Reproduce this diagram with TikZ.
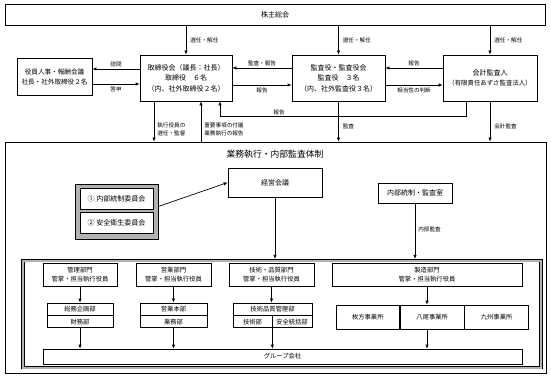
\documentclass[tikz,border=0pt]{standalone}
\usepackage{fontspec}
\setmainfont{Noto Sans CJK JP}
\usetikzlibrary{positioning,arrows.meta}

\begin{document}
\begin{tikzpicture}[x=1pt, y=-1pt, line width=0.7pt, >={Latex[length=4pt,width=3.5pt]},
    every node/.style={font=\fontsize{7}{10.5}\selectfont, inner sep=0pt},
    box/.style={draw, align=center, fill=white},
    lbl/.style={font=\fontsize{5.6}{8}\selectfont, align=left},
    dept/.style={draw, align=center, fill=white, font=\fontsize{6.3}{9}\selectfont}]
    \useasboundingbox (0,0) rectangle (551,377);

    % top level
    \node[box, minimum width=540, minimum height=21] (soukai) at (275,14.5) {株主総会};
    \node[box, minimum width=75, minimum height=37, font=\fontsize{6.6}{10}\selectfont] (jinji) at (54.5,76.5) {役員人事・報酬会議\\社長・社外取締役２名};
    \node[box, minimum width=92, minimum height=46] (torikai) at (186,78) {取締役会（議長：社長）\\取締役　６名\\（内、社外取締役２名）};
    \node[box, minimum width=93, minimum height=46] (kansakai) at (338.5,78) {監査役・監査役会\\監査役　３名\\（内、社外監査役３名）};
    \node[box, minimum width=94, minimum height=46] (kaikei) at (490,78) {会計監査人\\{\fontsize{6.4}{10.5}\selectfont（有限責任あずさ監査法人）}};

    \foreach \n in {torikai, kansakai, kaikei}
      \draw[->] (\n.north |- soukai.south) -- (\n.north) node[lbl, midway, right=4pt] {選任・解任};

    \draw[->] ([yshift=9pt]torikai.west) -- ([yshift=9pt]torikai.west -| jinji.east) node[lbl, midway, above=2pt] {諮問};
    \draw[->] ([yshift=-6pt]torikai.west -| jinji.east) -- ([yshift=-6pt]torikai.west) node[lbl, midway, below=2pt] {答申};
    \draw[->] ([yshift=10pt]kansakai.west) -- ([yshift=10pt]kansakai.west -| torikai.east) node[lbl, midway, above=2pt] {監査・報告};
    \draw[->] ([yshift=-7pt]torikai.east) -- ([yshift=-7pt]torikai.east -| kansakai.west) node[lbl, midway, below=2pt] {報告};
    \draw[->] ([yshift=10pt]kaikei.west) -- ([yshift=10pt]kaikei.west -| kansakai.east) node[lbl, midway, above=2pt] {報告};
    \draw[->] ([yshift=-7pt]kansakai.east) -- ([yshift=-7pt]kansakai.east -| kaikei.west) node[lbl, midway, below=2pt] {相当性の判断};
    \draw[->] ([xshift=-24pt]kaikei.south) -- ++(0,15) -| ([xshift=34pt]torikai.south) node[lbl, pos=0.38, above=1.5pt] {報告};

    % execution / internal audit
    \node[draw, minimum width=541, minimum height=231] (taisei) at (275.5,257.5) {};
    \node[font=\fontsize{8.8}{10}\selectfont] (title) at (275,154) {業務執行・内部監査体制};

    \draw[->] ([xshift=-32pt]torikai.south) -- ([xshift=-32pt]torikai.south |- taisei.north) node[lbl, pos=0.7, right=3pt] {執行役員の\\選任・監督};
    \draw[->] ([xshift=15pt]torikai.south |- taisei.north) -- ([xshift=15pt]torikai.south) node[lbl, pos=0.3, right=3pt] {重要事項の付議\\業務執行の報告};
    \draw[->] (kansakai.south) -- (kansakai.south |- taisei.north) node[lbl, pos=0.62, right=4pt] {監査};
    \draw[->] (kaikei.south) -- (kaikei.south |- taisei.north) node[lbl, pos=0.62, right=4pt] {会計監査};

    \node[draw, fill=gray!60, minimum width=83, minimum height=55] (iinkai) at (116.5,211.5) {};
    \node[box, minimum width=73, minimum height=21] (naibu) at (116.5,199) {① 内部統制委員会};
    \node[box, minimum width=73, minimum height=21] (anzen) at (116.5,223) {② 安全衛生委員会};
    \node[box, minimum width=94, minimum height=29] (keiei) at (275,182.5) {経営会議};
    \node[box, minimum width=74, minimum height=20] (kansashitsu) at (415,193) {内部統制・監査室};

    \draw[->] ([yshift=5pt]iinkai.east) -- (keiei.west);

    % departments
    \node[draw, double=gray!60, double distance=2pt, line width=0.6pt, minimum width=518, minimum height=107] (waku) at (282,314) {};
    \draw[->, shorten >=1.3pt] (keiei.south) -- (keiei.south |- waku.north);
    \draw[->, shorten >=1.3pt] (kansashitsu.south) -- (kansashitsu.south |- waku.north) node[lbl, pos=0.46, right=3pt] {内部監査};

    \node[dept, minimum width=74, minimum height=23] (kanri) at (80,274.5) {管理部門\\管掌・担当執行役員};
    \node[dept, minimum width=75, minimum height=23] (eigyo) at (173.5,274.5) {営業部門\\管掌・担当執行役員};
    \node[dept, minimum width=85, minimum height=23] (gijutsu) at (271.5,274.5) {技術・品質部門\\管掌・担当執行役員};
    \node[dept, minimum width=190, minimum height=23] (seizo) at (427,274.5) {製造部門\\管掌・担当執行役員};

    \node[dept, minimum width=66, minimum height=12] (soumu) at (80,309) {総務企画部};
    \node[dept, minimum width=66, minimum height=12, below=0pt of soumu] (zaimu) {財務部};
    \node[dept, minimum width=67, minimum height=12] (honbu) at (173.5,309) {営業本部};
    \node[dept, minimum width=67, minimum height=12, below=0pt of honbu] (gyoumu) {業務部};
    \node[dept, minimum width=79, minimum height=12] (hinkan) at (272.5,309) {技術品質管理部};
    \node[dept, minimum width=39, minimum height=12, anchor=north west] (gijutsubu) at (hinkan.south west) {技術部};
    \node[dept, minimum width=40, minimum height=12, anchor=north east] (anzenbu) at (hinkan.south east) {安全統括部};

    \node[dept, minimum width=63.7, minimum height=24] (hirakata) at (367.8,317) {枚方事業所};
    \node[dept, minimum width=63.7, minimum height=24, right=0pt of hirakata] (yao) {八尾事業所};
    \node[dept, minimum width=63.7, minimum height=24, right=0pt of yao] (kyushu) {九州事業所};

    \node[dept, minimum width=479, minimum height=15] (group) at (282.5,356.5) {グループ会社};

    \draw[->] (kanri.south) -- (kanri.south |- soumu.north);
    \draw[->] (eigyo.south) -- (eigyo.south |- honbu.north);
    \draw[->] (gijutsu.south) -- (gijutsu.south |- hinkan.north);
    \draw[->] (seizo.south) -- (seizo.south |- yao.north);

    \draw[->] (zaimu.south) -- (zaimu.south |- group.north);
    \draw[->] (gyoumu.south) -- (gyoumu.south |- group.north);
    \draw[->] (gijutsubu.south east) -- (gijutsubu.south east |- group.north);
    \draw[->] (seizo.south |- yao.south) -- (seizo.south |- group.north);
  \end{tikzpicture}
\end{document}
